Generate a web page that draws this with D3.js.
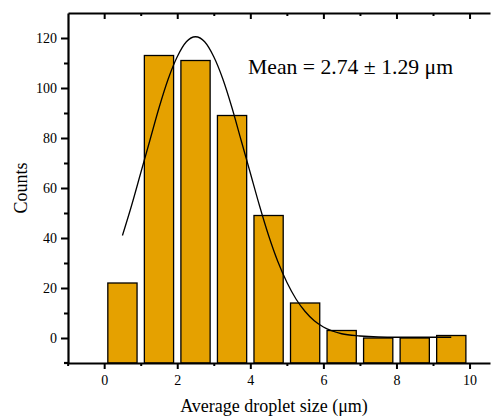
<!DOCTYPE html>
<html>
<head>
<meta charset="utf-8">
<script src="https://cdn.jsdelivr.net/npm/d3@7"></script>
<style>
  body { margin: 0; background: #fff; }
  text { font-family: "Liberation Serif", "Times New Roman", serif; fill: #000; }
</style>
</head>
<body>
<div id="chart"></div>
<script>
var width = 491;
var height = 418;

// histogram bins (centers, µm) and counts
var binCenters = [0.5, 1.5, 2.5, 3.5, 4.5, 5.5, 6.5, 7.5, 8.5, 9.5];
var counts = [22, 113, 111, 89, 49, 14, 3, 0, 0, 1];

// gaussian fit line
var fitX = [0.5, 0.75, 1, 1.25, 1.5, 1.75, 2, 2.25, 2.5, 2.75, 3, 3.25, 3.5, 3.75, 4, 4.25, 4.5, 4.75, 5, 5.25, 5.5, 5.75, 6, 6.5, 7, 7.5, 8, 8.5, 9, 9.5];
var fitY = [41, 53, 66, 79, 92, 103.5, 112.5, 118.5, 120.5, 118.5, 112.5, 103.5, 92, 79, 66, 53, 41, 30.7, 22.3, 15.6, 10.6, 6.9, 4.4, 1.7, 0.8, 0.4, 0.3, 0.3, 0.3, 0.3];

var xTicks = [0, 2, 4, 6, 8, 10];
var xMinor = [-1, 1, 3, 5, 7, 9];
var yTicks = [0, 20, 40, 60, 80, 100, 120];
var yMinor = [10, 30, 50, 70, 90, 110];

var x = d3.scaleLinear().domain([-0.99, 10.56]).range([68, 490]);
var y = d3.scaleLinear().domain([-10, 130]).range([363, 13]);

var svg = d3.select("#chart").append("svg")
    .attr("width", width)
    .attr("height", height);

// bars
var barW = 0.8;
svg.selectAll("rect.bar")
    .data(counts)
    .enter().append("rect")
    .attr("class", "bar")
    .attr("x", function(d, i) { return x(binCenters[i] - barW / 2); })
    .attr("width", function(d, i) { return x(binCenters[i] + barW / 2) - x(binCenters[i] - barW / 2); })
    .attr("y", function(d) { return y(d); })
    .attr("height", function(d) { return y(-10) - y(d); })
    .attr("fill", "#e5a100")
    .attr("stroke", "#000")
    .attr("stroke-width", 1.3);

// fit curve
var line = d3.line()
    .x(function(d) { return x(d[0]); })
    .y(function(d) { return y(d[1]); })
    .curve(d3.curveMonotoneX);

svg.append("path")
    .datum(d3.zip(fitX, fitY))
    .attr("d", line)
    .attr("fill", "none")
    .attr("stroke", "#000")
    .attr("stroke-width", 1.3);

// axes
var serif = "'Liberation Serif', 'Times New Roman', serif";

var xAxis = svg.append("g").attr("transform", "translate(0," + y(-10) + ")");
xAxis.call(d3.axisBottom(x).tickValues(xTicks).tickSize(6).tickSizeOuter(0).tickPadding(6));
xAxis.append("g").call(d3.axisBottom(x).tickValues(xMinor).tickSize(3).tickFormat(""));
xAxis.append("line").attr("x1", 64).attr("x2", 68).attr("stroke", "#000").attr("stroke-width", 2.2);

var xTop = svg.append("g").attr("transform", "translate(0," + y(130) + ")");
xTop.call(d3.axisBottom(x).tickValues(xTicks).tickSize(6).tickSizeOuter(0).tickFormat(""));
xTop.append("g").call(d3.axisBottom(x).tickValues(xMinor.slice(1)).tickSize(3).tickFormat(""));

var yAxis = svg.append("g").attr("transform", "translate(" + x(-0.99) + ",0)");
yAxis.call(d3.axisLeft(y).tickValues(yTicks).tickSize(7).tickSizeOuter(0).tickPadding(4));
yAxis.append("g").call(d3.axisLeft(y).tickValues(yMinor).tickSize(4).tickFormat(""));

svg.selectAll(".domain").attr("stroke", "#000").attr("stroke-width", 2.2);
svg.selectAll(".tick line").attr("stroke", "#000").attr("stroke-width", 2);
svg.selectAll("g g .domain").remove();
[xAxis, xTop, yAxis].forEach(function(a) { a.attr("font-family", serif).attr("font-size", 14); });
svg.selectAll(".tick text").attr("fill", "#000");

// titles
svg.append("text")
    .attr("x", 274)
    .attr("y", 412)
    .attr("text-anchor", "middle")
    .style("font-size", "18px")
    .text("Average droplet size (\u03bcm)");

svg.append("text")
    .attr("transform", "translate(27,188) rotate(-90)")
    .attr("text-anchor", "middle")
    .style("font-size", "18px")
    .text("Counts");

svg.append("text")
    .attr("x", 248)
    .attr("y", 73.5)
    .style("font-size", "21.7px")
    .text("Mean = 2.74 \u00b1 1.29 \u03bcm");
</script>
</body>
</html>
